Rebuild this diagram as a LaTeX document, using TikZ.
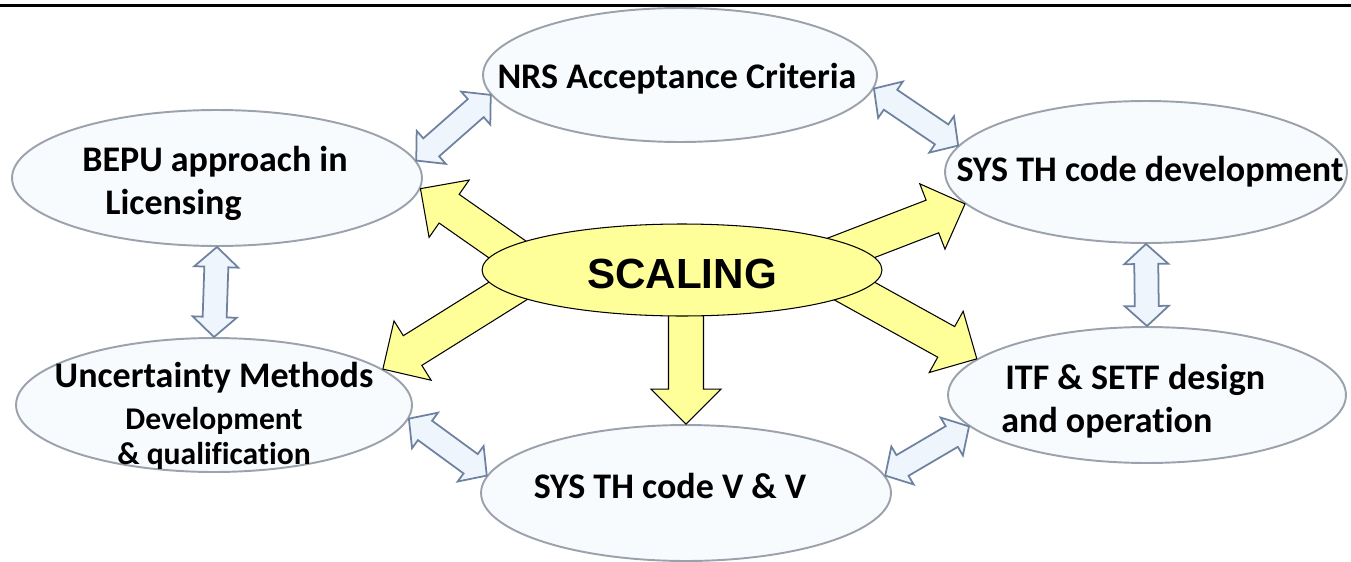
\documentclass[tikz,border=0pt]{standalone}
\usepackage{fontspec}
\setmainfont{Carlito}[Ligatures=NoCommon]
\newfontfamily\arialfont{Liberation Sans}
\definecolor{ovalfill}{RGB}{248,251,254}
\definecolor{ovalline}{RGB}{155,162,172}
\definecolor{linkfill}{RGB}{238,245,252}
\definecolor{linkline}{RGB}{110,130,160}
\definecolor{scalyellow}{RGB}{255,255,153}
\usetikzlibrary{calc, positioning, shapes.geometric}

% yellow block arrow: base, tip
\newcommand{\fatarrow}[2]{%
  \path (#1) coordinate (ya-s) (#2) coordinate (ya-t);
  \coordinate (ya-h) at ($(ya-t)!0.7cm!(ya-s)$);
  \draw[scalearrow] ($(ya-s)!0.35cm!90:(ya-t)$) -- ($(ya-h)!0.35cm!90:(ya-t)$)
    -- ($(ya-h)!0.7cm!90:(ya-t)$) -- (ya-t) -- ($(ya-h)!0.7cm!-90:(ya-t)$)
    -- ($(ya-h)!0.35cm!-90:(ya-t)$) -- ($(ya-s)!0.35cm!-90:(ya-t)$) -- cycle;}
% pale two-headed block arrow between two ovals
\newcommand{\linkarrow}[2]{%
  \path (#1) coordinate (la-a) (#2) coordinate (la-b);
  \coordinate (la-ha) at ($(la-a)!0.4cm!(la-b)$);
  \coordinate (la-hb) at ($(la-b)!0.4cm!(la-a)$);
  \draw[linkbody] (la-a) -- ($(la-ha)!0.44cm!90:(la-b)$) -- ($(la-ha)!0.24cm!90:(la-b)$)
    -- ($(la-hb)!0.24cm!-90:(la-a)$) -- ($(la-hb)!0.44cm!-90:(la-a)$) -- (la-b)
    -- ($(la-hb)!0.44cm!90:(la-a)$) -- ($(la-hb)!0.24cm!90:(la-a)$)
    -- ($(la-ha)!0.24cm!-90:(la-b)$) -- ($(la-ha)!0.44cm!-90:(la-b)$) -- cycle;}

\begin{document}
\begin{tikzpicture}[x=0.02cm, y=-0.02cm,
    oval/.style={ellipse, fill=ovalfill, draw=ovalline, line width=1.1pt, inner sep=0pt},
    scaloval/.style={ellipse, fill=scalyellow, draw=black, line width=0.6pt, inner sep=0pt,
      minimum width=8cm, minimum height=1.84cm},
    lbl/.style={inner sep=0pt, font=\fontsize{20.5}{24.5}\selectfont\bfseries, text=black},
    scalearrow/.style={fill=scalyellow, draw=black, line width=0.6pt},
    linkbody/.style={fill=linkfill, draw=linkline, line width=1pt},
  ]
    \useasboundingbox (0,0) rectangle (1351,561);
    \draw[line width=1.4pt] (0,5.5) -- (1351,5.5);

    \node[oval, minimum width=7.88cm, minimum height=2.68cm] (nrs) at (680,75) {};
    \node[oval, minimum width=8.2cm, minimum height=2.72cm] (bepu) at (217,178) {};
    \node[oval, minimum width=7.92cm, minimum height=2.68cm] (unc) at (214,405) {};
    \node[oval, minimum width=8.2cm, minimum height=2.72cm] (vv) at (686,493) {};
    \node[oval, minimum width=8.04cm, minimum height=2.84cm] (dev) at (1146,172) {};
    \node[oval, minimum width=7.96cm, minimum height=2.72cm] (itf) at (1147,395) {};

    \node[lbl] (nrs-t) at (677,79) {NRS Acceptance Criteria};
    \node[lbl, align=left, anchor=west] (bepu-t) at (82,183) {BEPU approach in\\\hspace*{0.46cm}Licensing};
    \node[lbl] (dev-t) at (1150,172) {SYS TH code development};
    \node[lbl, align=left, anchor=west] (itf-t) at (1001,401) {\hspace*{0.08cm}ITF \& SETF design\\and operation};
    \node[lbl, align=center] (unc-t) at (214,416) {Uncertainty Methods\\[-0.5pt]\fontsize{18}{20}\selectfont Development\\[-4.5pt]\fontsize{18}{20}\selectfont\& qualification};
    \node[lbl] (vv-t) at (670,486) {SYS TH code V \& V};

    \linkarrow{bepu.5}{nrs.186}
    \linkarrow{nrs.-4}{dev.172}
    \linkarrow{dev.south}{itf.north}
    \linkarrow{bepu.south}{unc.north}
    \linkarrow{unc.-4}{vv.175}
    \linkarrow{vv.5}{itf.190}

    % arrows out of the centre
    \coordinate (s-bepu) at (544,275);
    \coordinate (s-unc) at (535,274);
    \coordinate (s-vv) at (686,280);
    \coordinate (s-dev) at (804,266);
    \coordinate (s-itf) at (811,267);
    \fatarrow{s-bepu}{bepu.-3}
    \fatarrow{s-unc}{unc.12}
    \fatarrow{s-vv}{vv.north}
    \fatarrow{s-dev}{dev.190}
    \fatarrow{s-itf}{itf.168}

    \node[scaloval] (scal) at (682,270) {};
    \node[inner sep=0pt, font=\arialfont\bfseries\fontsize{24}{28}\selectfont] (scal-t) at (682,274) {SCALING};
\end{tikzpicture}
\end{document}
